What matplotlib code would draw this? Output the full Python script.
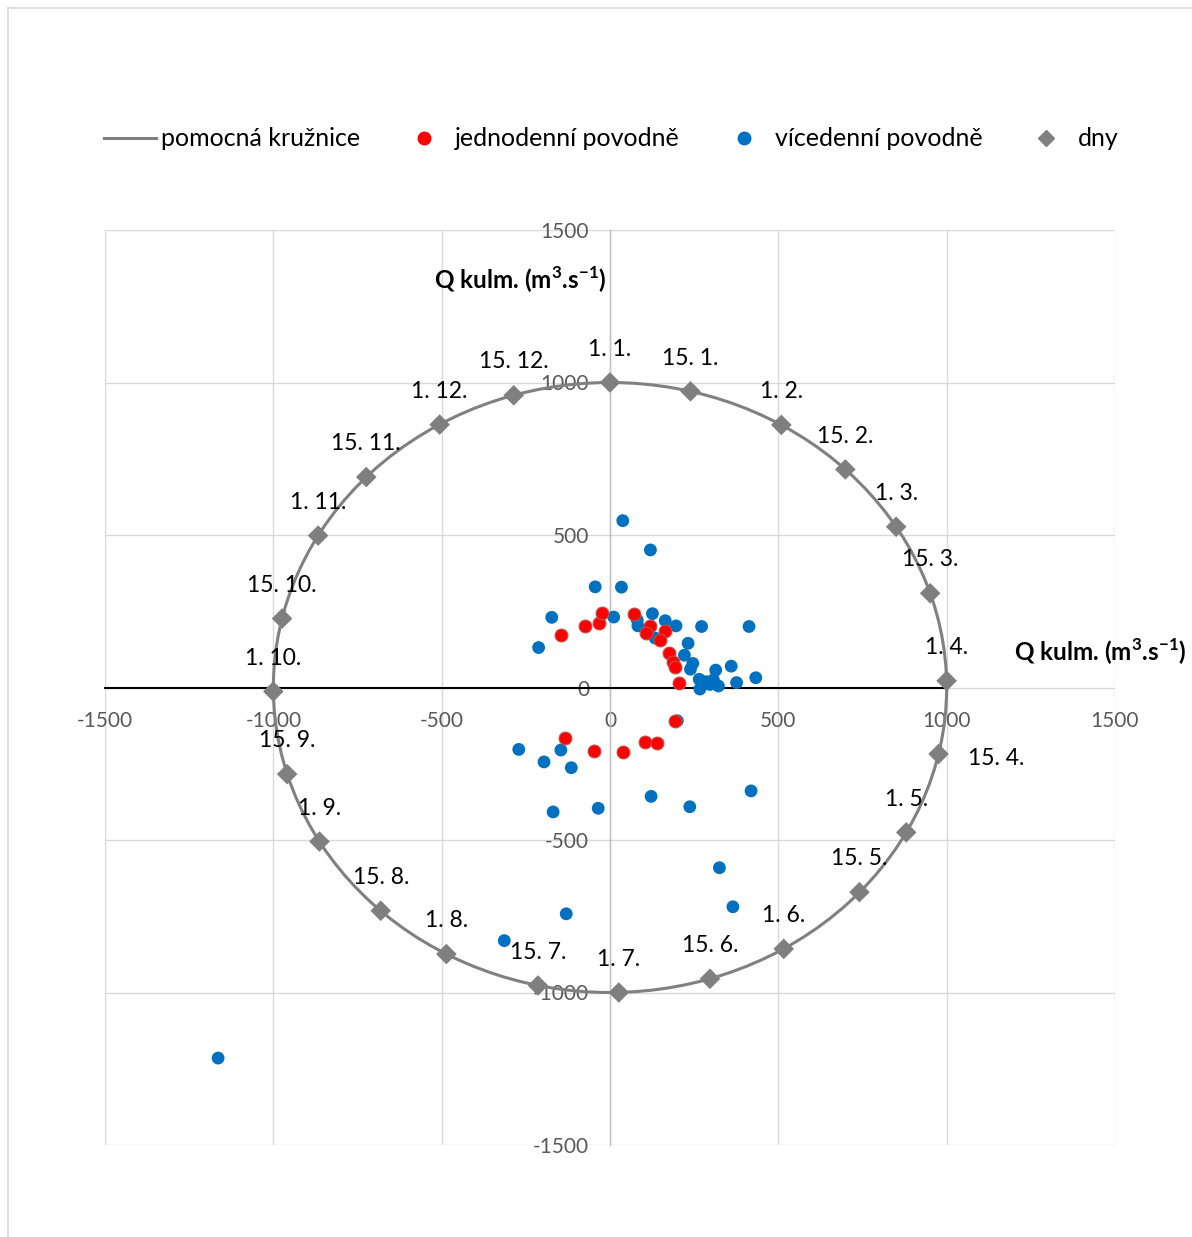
import matplotlib
matplotlib.use("Agg")
import matplotlib.pyplot as plt
from matplotlib.patches import Circle
from matplotlib.lines import Line2D

plt.rcParams['font.family'] = ['Lato', 'DejaVu Sans']
plt.rcParams['axes.unicode_minus'] = False
plt.rcParams['mathtext.fontset'] = 'custom'
plt.rcParams['mathtext.rm'] = 'Lato:bold'
plt.rcParams['mathtext.bf'] = 'Lato:bold'

# pomocná kružnice - poloměr
circle_r = 1000

# dny v roce na kružnici (x, y)
day_labels = ['1. 1.', '15. 1.', '1. 2.', '15. 2.', '1. 3.', '15. 3.', '1. 4.', '15. 4.',
              '1. 5.', '15. 5.', '1. 6.', '15. 6.', '1. 7.', '15. 7.', '1. 8.', '15. 8.',
              '1. 9.', '15. 9.', '1. 10.', '15. 10.', '1. 11.', '15. 11.', '1. 12.', '15. 12.']
day_x = [0, 239, 509, 699, 850, 951, 1000, 976, 880, 741, 516, 297,
         26, -214, -486, -681, -863, -959, -1000, -974, -867, -724, -506, -286]
day_y = [1000, 971, 861, 715, 527, 309, 22, -218, -475, -671, -857, -955,
         -1000, -977, -874, -732, -505, -284, -13, 226, 498, 690, 862, 958]

# jednodenní povodně
one_x = [-145, -75, -33, -24, 71, 120, 106, 162, 149, 176, 186, 193, 206,
         193, -135, -48, 38, 105, 139]
one_y = [173, 202, 213, 243, 241, 202, 180, 186, 156, 112, 83, 66, 14,
         -109, -165, -207, -211, -178, -181]

# vícedenní povodně
multi_x = [38, 120, -44, 34, -173, -212, 11, 126, 81, 83, 164, 196, 272, 413,
           134, 232, 221, 246, 239, 360, 314, 433, 265, 285, 307, 322, 376, 267, 297,
           200, -271, -146, -196, -115, -169, -35, 122, 237, 419, 325, 365, -130, -314,
           -1164]
multi_y = [547, 451, 330, 329, 230, 131, 231, 242, 221, 202, 219, 202, 200, 200,
           162, 145, 106, 79, 60, 70, 57, 32, 27, 19, 25, 5, 16, -5, 10,
           -109, -203, -205, -244, -263, -408, -396, -357, -391, -339, -591, -719, -742, -830,
           -1215]

ticks = [-1500, -1000, -500, 0, 500, 1000, 1500]

fig = plt.figure(figsize=(11.92, 12.37), dpi=100)
ax = fig.add_axes([105 / 1192, 92 / 1237, 1010 / 1192, 915 / 1237])
ax.set_xlim(-1500, 1500)
ax.set_ylim(-1500, 1500)

ax.set_xticks(ticks)
ax.set_yticks(ticks)
ax.grid(True, color='#d9d9d9', linewidth=1.0)
for gl in ax.get_xgridlines() + ax.get_ygridlines():
    gl.set_clip_on(False)
ax.set_axisbelow(True)

for s in ['top', 'right']:
    ax.spines[s].set_visible(False)
ax.spines['left'].set_position('zero')
ax.spines['left'].set_color('#bfbfbf')
ax.spines['left'].set_linewidth(1.0)
ax.spines['bottom'].set_position('zero')
ax.spines['bottom'].set_color('black')
ax.spines['bottom'].set_linewidth(1.5)
ax.spines['bottom'].set_bounds(-1500, circle_r)
ax.tick_params(length=0, labelsize=15, labelcolor='#595959')
ax.tick_params(axis='x', pad=17)
ax.tick_params(axis='y', pad=15)

ax.add_patch(Circle((0, 0), circle_r, fill=False, edgecolor='#808080', linewidth=2.2, zorder=2))

ax.scatter(multi_x, multi_y, s=85, color='#0070c0', edgecolors='none', zorder=3)
ax.scatter(one_x, one_y, s=85, color='#ff0000', edgecolors='#c0504d', linewidths=0.8, zorder=4)
ax.scatter(day_x, day_y, s=110, marker='D', color='#7f7f7f', edgecolors='none', zorder=5)

for lab, x, y in zip(day_labels, day_x, day_y):
    if lab == '15. 4.':
        ax.annotate(lab, (x, y), xytext=(21, -3), textcoords='offset points',
                    ha='left', va='center', fontsize=16.5)
    else:
        ax.annotate(lab, (x, y), xytext=(0, 24), textcoords='offset points',
                    ha='center', va='center', fontsize=16.5)

title = r'Q kulm. (m$^{3}$.s$^{-1}$)'
ax.text(-267, 1336, title, ha='center', va='center', fontsize=17.5, fontweight='bold', clip_on=False)
ax.text(1455, 116, title, ha='center', va='center', fontsize=17.5, fontweight='bold', clip_on=False)

handles = [
    Line2D([], [], color='#808080', linewidth=2.2),
    Line2D([], [], linestyle='none', marker='o', markersize=9, color='#ff0000'),
    Line2D([], [], linestyle='none', marker='o', markersize=9, color='#0070c0'),
    Line2D([], [], linestyle='none', marker='D', markersize=8, color='#7f7f7f'),
]
names = ['pomocná kružnice', 'jednodenní povodně', 'vícedenní povodně', 'dny']
fig.legend(handles, names, loc='center', bbox_to_anchor=(0.5126, 1 - 139 / 1237), ncol=4,
           frameon=False, fontsize=18, handlelength=2.1, handletextpad=0.2, columnspacing=1.5)

# rámeček grafu
fig.add_artist(Line2D([8 / 1192, 8 / 1192], [0, 1 - 8 / 1237], transform=fig.transFigure,
                      color='#d9d9d9', linewidth=1.2))
fig.add_artist(Line2D([8 / 1192, 1], [1 - 8 / 1237, 1 - 8 / 1237], transform=fig.transFigure,
                      color='#d9d9d9', linewidth=1.2))

fig.savefig('out.png', dpi=100)
